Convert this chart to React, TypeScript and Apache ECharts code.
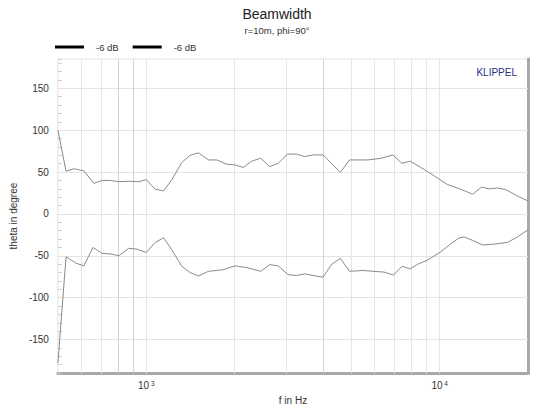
import React, { useEffect, useRef } from "react";
import * as echarts from "echarts";

// ---- data ----
const upperFreqs = [500, 533, 567, 613, 663, 707, 755, 806, 871, 942, 1000, 1073, 1146, 1223, 1322, 1411, 1507, 1629, 1739, 1880, 2006, 2142, 2286, 2453, 2638, 2817, 3029, 3251, 3468, 3704, 4006, 4274, 4585, 4931, 5693, 6319, 6924, 7430, 7946, 9105, 10646, 11812, 12948, 13886, 14740, 15740, 16796, 18408, 20000];
const upperValues = [100, 51, 54, 51.5, 36.5, 40, 40, 38.5, 39, 38.5, 41, 29.5, 27.5, 41, 61.5, 70, 73, 64.5, 64.5, 59.5, 58.5, 55.5, 63, 66.5, 56.5, 60.5, 71.5, 71.5, 68.5, 70.5, 70.5, 60.5, 49.5, 64.5, 64.5, 66.5, 70.5, 60.5, 63, 50.5, 35, 29.5, 23.5, 32, 30, 31, 29, 21.5, 15.5];

const lowerFreqs = [500, 533, 574, 613, 658, 707, 765, 806, 871, 930, 1000, 1073, 1146, 1223, 1322, 1411, 1507, 1629, 1833, 2006, 2198, 2453, 2638, 2817, 3046, 3251, 3468, 3704, 4006, 4274, 4585, 4931, 5477, 6484, 6956, 7447, 7946, 8421, 9105, 10101, 10924, 11657, 12116, 12948, 13995, 15328, 17022, 18408, 20000];
const lowerValues = [-178, -51, -58.5, -62, -40, -47, -48, -50, -41, -42, -46, -34, -28.5, -43, -62.5, -70, -74, -68.5, -66.5, -62, -64, -68.5, -60.5, -62, -72.5, -73.5, -71.5, -73.5, -75.5, -60.5, -53, -68.5, -67.5, -69.5, -73, -62.5, -65.5, -60, -55, -45, -35.5, -28.5, -27.5, -31.5, -37, -36, -34, -27.5, -19];

const seriesNames = ["upper", "lower"];
const legendLabel = "-6 dB";
const yTickLabels = [-150, -100, -50, 0, 50, 100, 150];
const lightGridFreqs = [600, 700, 1000, 2000, 3000, 5000, 6000, 7000, 8000, 9000, 10000];
const darkGridFreqs = [800, 900, 4000];
const decadeLabels: Record<string, string> = { "3": "{a|10}{s| 3}", "4": "{a|10}{s| 4}" };

const FONT = "Liberation Sans, Arial, sans-serif";

export default function App() {
  const ref = useRef<HTMLDivElement>(null);
  useEffect(() => {
    document.body.style.margin = "0";
    document.documentElement.style.overflow = "hidden";
    document.body.style.overflow = "hidden";
    if (!ref.current) return;
    const chart = echarts.init(ref.current, null, { renderer: "svg" });
    const markLineData = [
      ...yTickLabels.map((v) => ({ yAxis: v, lineStyle: { color: "#e4e4e4", width: 1, type: "solid" } })),
      ...lightGridFreqs.map((f) => ({ xAxis: f, lineStyle: { color: "#e6e6e6", width: 1, type: "solid" } })),
      ...darkGridFreqs.map((f) => ({ xAxis: f, lineStyle: { color: "#d2d2d2", width: 1, type: "solid" } })),
    ];
    const option: any = {
      animation: false,
      textStyle: { fontFamily: FONT },
      title: {
        text: "Beamwidth",
        subtext: "r=10m, phi=90°",
        left: 272,
        top: 2,
        textAlign: "center",
        itemGap: 4,
        textStyle: { fontSize: 14, fontWeight: "normal", color: "#222", fontFamily: FONT },
        subtextStyle: { fontSize: 9.5, color: "#333", fontFamily: FONT },
      },
      legend: {
        left: 50,
        top: 37,
        itemWidth: 29,
        itemHeight: 3,
        itemGap: 14,
        icon: "rect",
        data: seriesNames.map((n) => ({ name: n, icon: "rect", itemStyle: { color: "#000" } })),
        itemStyle: { color: "#000" },
        formatter: () => legendLabel,
        textStyle: { fontSize: 9.5, color: "#333", fontFamily: FONT, padding: [0, 0, 0, 7] },
      },
      graphic: [
        {
          type: "text",
          right: 22,
          top: 67,
          style: { text: "KLIPPEL", fontSize: 10, fill: "#2b2b86", fontFamily: FONT },
        },
      ],
      grid: {
        left: 56,
        right: 11,
        top: 59,
        bottom: 30,
        show: true,
        borderColor: "#e2e2e2",
        borderWidth: 1,
        backgroundColor: "transparent",
      },
      xAxis: {
        type: "log",
        logBase: 10,
        min: 500,
        max: 20000,
        name: "f in Hz",
        nameLocation: "middle",
        nameGap: 18,
        nameTextStyle: { fontSize: 10, color: "#333", fontFamily: FONT },
        axisLine: { show: true, onZero: false, lineStyle: { color: "#a8a8a8", width: 3 } },
        axisTick: { show: false },
        splitLine: { show: false },
        axisLabel: {
          margin: 7,
          showMinLabel: false,
          showMaxLabel: false,
          formatter: (v: number) => {
            const e = Math.log10(v);
            const r = Math.round(e);
            if (Math.abs(e - r) < 1e-6 && decadeLabels[String(r)]) return decadeLabels[String(r)];
            return "";
          },
          rich: {
            a: { fontSize: 10, color: "#333", fontFamily: FONT },
            s: { fontSize: 6.5, color: "#333", fontFamily: FONT, verticalAlign: "top" },
          },
        },
      },
      yAxis: [
        {
          type: "value",
          min: -190,
          max: 185,
          interval: 10,
          name: "theta in degree",
          nameLocation: "middle",
          nameRotate: 90,
          nameGap: 36,
          nameTextStyle: { fontSize: 10, color: "#333", fontFamily: FONT },
          axisLine: { show: false, onZero: false },
          axisTick: { show: true, inside: true, length: 4, lineStyle: { color: "#d0d0d0" } },
          splitLine: { show: false },
          axisLabel: {
            margin: 9,
            fontSize: 10,
            color: "#333",
            fontFamily: FONT,
            formatter: (v: number) => (yTickLabels.indexOf(v) >= 0 ? String(v) : ""),
          },
        },
        {
          type: "value",
          position: "right",
          min: -190,
          max: 185,
          interval: 10,
          axisLine: { show: true, onZero: false, lineStyle: { color: "#a8a8a8", width: 3 } },
          axisTick: { show: false },
          axisLabel: { show: false },
          splitLine: { show: false },
        },
      ],
      series: [
        {
          name: seriesNames[0],
          type: "line",
          symbol: "none",
          z: 3,
          lineStyle: { color: "#8a8a8a", width: 1 },
          itemStyle: { color: "#8a8a8a" },
          data: upperFreqs.map((f, i) => [f, upperValues[i]]),
          markLine: {
            silent: true,
            symbol: "none",
            z: 1,
            label: { show: false },
            animation: false,
            data: markLineData,
          },
        },
        {
          name: seriesNames[1],
          type: "line",
          symbol: "none",
          z: 3,
          lineStyle: { color: "#8a8a8a", width: 1 },
          itemStyle: { color: "#8a8a8a" },
          data: lowerFreqs.map((f, i) => [f, lowerValues[i]]),
        },
      ],
    };
    chart.setOption(option);
    return () => chart.dispose();
  }, []);
  return <div ref={ref} style={{ width: 539, height: 410, background: "#fff", overflow: "hidden" }} />;
}
